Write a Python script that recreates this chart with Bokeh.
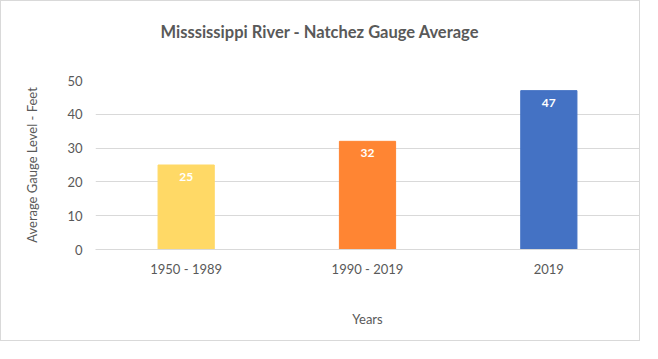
from bokeh.plotting import figure
from bokeh.models import ColumnDataSource, LabelSet, Title, FactorRange
from bokeh.core.properties import value
from bokeh.embed import file_html
from bokeh.resources import INLINE

categories = ["1950 - 1989", "1990 - 2019", "2019"]
averages = [25, 32, 47]
bar_colors = ["#FFD966", "#FF8533", "#4472C4"]
y_ticks = [0, 10, 20, 30, 40, 50]

FONT = "Lato"
GREY = "#595959"

src = ColumnDataSource(dict(cat=categories, val=averages, color=bar_colors,
                            txt=[str(v) for v in averages]))

p = figure(width=640, height=341, x_range=FactorRange(*categories), y_range=(0, 50),
           output_backend="svg", toolbar_location=None,
           min_border_left=94, min_border_right=2, min_border_top=79, min_border_bottom=93)
p.styles = {"border": "1px solid #d9d9d9"}
p.outline_line_color = None
p.background_fill_color = "white"
p.border_fill_color = "white"

# title (outermost) with an invisible spacer between it and the plot area
p.title.text = "Misssissippi River - Natchez Gauge Average"
p.title.align = "left"
p.title.offset = 65
p.title.standoff = 0
p.title.text_font = FONT
p.title.text_font_style = "bold"
p.title.text_font_size = "16.5px"
p.title.text_color = GREY
p.add_layout(Title(text=" ", text_font_size="1px", standoff=36), "above")

p.vbar(x="cat", top="val", width=0.31, color="color", source=src)

p.add_layout(LabelSet(x="cat", y="val", text="txt", source=src, y_offset=-12,
                      text_align="center", text_baseline="middle",
                      text_color="white", text_font=value(FONT), text_font_style="bold",
                      text_font_size="12px"))

p.xgrid.grid_line_color = None
p.ygrid.grid_line_color = "#d9d9d9"
p.ygrid.ticker = y_ticks

p.yaxis.ticker = y_ticks
p.yaxis.axis_line_color = None
p.yaxis.major_tick_line_color = None
p.yaxis.minor_tick_line_color = None
p.yaxis.major_label_standoff = 7
p.yaxis.major_label_text_font = FONT
p.yaxis.major_label_text_font_size = "13px"
p.yaxis.major_label_text_color = GREY
p.yaxis.axis_label = "Average Gauge Level - Feet"
p.yaxis.axis_label_standoff = 24
p.yaxis.axis_label_text_font = FONT
p.yaxis.axis_label_text_font_size = "13px"
p.yaxis.axis_label_text_font_style = "normal"
p.yaxis.axis_label_text_color = GREY

p.xaxis.axis_line_color = "#d9d9d9"
p.xaxis.major_tick_line_color = None
p.xaxis.minor_tick_line_color = None
p.xaxis.major_label_standoff = 5
p.xaxis.major_label_text_font = FONT
p.xaxis.major_label_text_font_size = "13px"
p.xaxis.major_label_text_color = GREY
p.xaxis.axis_label = "Years"
p.xaxis.axis_label_standoff = 31
p.xaxis.axis_label_text_font = FONT
p.xaxis.axis_label_text_font_size = "13px"
p.xaxis.axis_label_text_font_style = "normal"
p.xaxis.axis_label_text_color = GREY

open("out.html", "w").write(file_html(p, INLINE))
